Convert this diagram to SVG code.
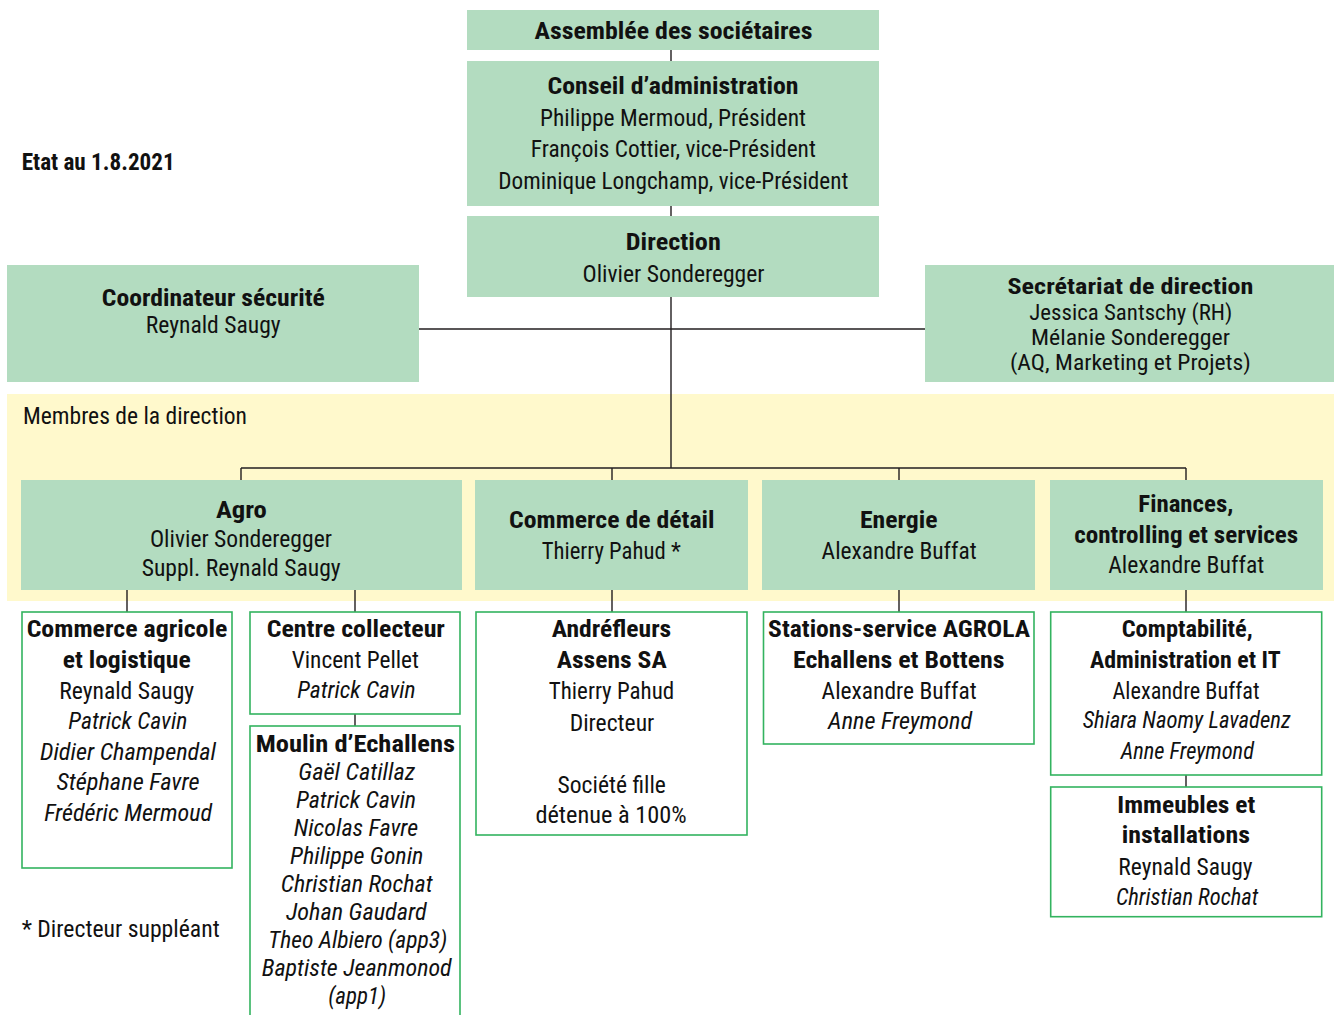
<svg xmlns="http://www.w3.org/2000/svg" width="1334" height="1015" viewBox="0 0 1334 1015">
<style>
text{font-family:"Liberation Sans Narrow","Roboto Condensed","Liberation Sans",Arial,sans-serif;font-size:23.3px;fill:#111;text-anchor:middle}
.b{font-weight:bold}
.i{font-style:italic}
.t{font-size:22.3px}
.st{text-anchor:start}
.fill{fill:#b3dcc0}
.band{fill:#fff9cc}
.box{fill:#fff;stroke:#33b35f;stroke-width:1.6}
.ln{stroke:#231f20;stroke-width:1.4;fill:none}
</style>
<rect width="1334" height="1015" fill="#fff"/>
<rect class="band" x="7" y="394" width="1327" height="207"/>

<g id="connectors">
<path class="ln" d="M671 50V61M671 206V216M671 297V468M419 329H925M241 468H1186M241 468V480M612 468V480M899 468V480M1186 468V480M127 590V612M355 590V612M355 714V726M612 590V612M899 590V612M1186 590V612M1186 775V787"/>
</g>

<g id="etat"><text class="b st" x="21.7" y="170" font-size="25" textLength="153" lengthAdjust="spacingAndGlyphs">Etat au 1.8.2021</text></g>
<g id="membres"><text class="st" x="23" y="423.5" textLength="224" lengthAdjust="spacingAndGlyphs">Membres de la direction</text></g>
<g id="note"><text class="st" x="21.7" y="937.3" font-size="22" textLength="198" lengthAdjust="spacingAndGlyphs">* Directeur suppléant</text></g>

<g id="assemblee">
<rect class="fill" x="467" y="10" width="412" height="40"/>
<text class="b" x="673.5" y="39" textLength="278" lengthAdjust="spacingAndGlyphs">Assemblée des sociétaires</text>
</g>
<g id="conseil">
<rect class="fill" x="467" y="61" width="412" height="145"/>
<text class="b" x="673" y="94" textLength="251" lengthAdjust="spacingAndGlyphs">Conseil d’administration</text>
<text x="673" y="125.5" textLength="266" lengthAdjust="spacingAndGlyphs">Philippe Mermoud, Président</text>
<text x="673.3" y="157" textLength="285" lengthAdjust="spacingAndGlyphs">François Cottier, vice-Président</text>
<text x="673.3" y="189" textLength="350" lengthAdjust="spacingAndGlyphs">Dominique Longchamp, vice-Président</text>
</g>
<g id="direction">
<rect class="fill" x="467" y="216" width="412" height="81"/>
<text class="b" x="673.3" y="250" textLength="95" lengthAdjust="spacingAndGlyphs">Direction</text>
<text x="673.5" y="281.5" textLength="182" lengthAdjust="spacingAndGlyphs">Olivier Sonderegger</text>
</g>
<g id="coordinateur">
<rect class="fill" x="7" y="265" width="412" height="117"/>
<text class="b" x="213.3" y="306" textLength="223" lengthAdjust="spacingAndGlyphs">Coordinateur sécurité</text>
<text x="213.2" y="332.5" textLength="135" lengthAdjust="spacingAndGlyphs">Reynald Saugy</text>
</g>
<g id="secretariat">
<rect class="fill" x="925" y="265" width="409" height="117"/>
<text class="b t" x="1130.5" y="294" textLength="246" lengthAdjust="spacingAndGlyphs">Secrétariat de direction</text>
<text class="t" x="1130.8" y="319.5" textLength="203" lengthAdjust="spacingAndGlyphs">Jessica Santschy (RH)</text>
<text class="t" x="1130.5" y="345" textLength="199" lengthAdjust="spacingAndGlyphs">Mélanie Sonderegger</text>
<text class="t" x="1130.4" y="370" textLength="241" lengthAdjust="spacingAndGlyphs">(AQ, Marketing et Projets)</text>
</g>

<g id="agro">
<rect class="fill" x="21" y="480" width="441" height="110"/>
<text class="b" x="241.4" y="517.5" textLength="51" lengthAdjust="spacingAndGlyphs">Agro</text>
<text x="240.9" y="546.5" textLength="182" lengthAdjust="spacingAndGlyphs">Olivier Sonderegger</text>
<text x="241.2" y="576" textLength="199" lengthAdjust="spacingAndGlyphs">Suppl. Reynald Saugy</text>
</g>
<g id="commerce-detail">
<rect class="fill" x="475" y="480" width="273" height="110"/>
<text class="b" x="611.8" y="527.5" textLength="205.5" lengthAdjust="spacingAndGlyphs">Commerce de détail</text>
<text x="611.2" y="558.5" textLength="139" lengthAdjust="spacingAndGlyphs">Thierry Pahud *</text>
</g>
<g id="energie">
<rect class="fill" x="762" y="480" width="273" height="110"/>
<text class="b" x="898.8" y="527.5" textLength="77.6" lengthAdjust="spacingAndGlyphs">Energie</text>
<text x="899.1" y="558.5" textLength="155" lengthAdjust="spacingAndGlyphs">Alexandre Buffat</text>
</g>
<g id="finances">
<rect class="fill" x="1050" y="480" width="273" height="110"/>
<text class="b" x="1185.8" y="511.5" textLength="95" lengthAdjust="spacingAndGlyphs">Finances,</text>
<text class="b" x="1186.2" y="542.5" textLength="224" lengthAdjust="spacingAndGlyphs">controlling et services</text>
<text x="1186.2" y="573" textLength="156" lengthAdjust="spacingAndGlyphs">Alexandre Buffat</text>
</g>

<g id="commerce-agricole">
<rect class="box" x="22" y="612" width="210" height="256"/>
<text class="b" x="127" y="637" textLength="200.7" lengthAdjust="spacingAndGlyphs">Commerce agricole</text>
<text class="b" x="126.7" y="668" textLength="128" lengthAdjust="spacingAndGlyphs">et logistique</text>
<text x="126.7" y="698.5" textLength="135" lengthAdjust="spacingAndGlyphs">Reynald Saugy</text>
<text class="i" x="127.8" y="729" textLength="119" lengthAdjust="spacingAndGlyphs">Patrick Cavin</text>
<text class="i" x="128" y="760" textLength="176" lengthAdjust="spacingAndGlyphs">Didier Champendal</text>
<text class="i" x="128" y="790" textLength="143" lengthAdjust="spacingAndGlyphs">Stéphane Favre</text>
<text class="i" x="128.2" y="820.5" textLength="168" lengthAdjust="spacingAndGlyphs">Frédéric Mermoud</text>
</g>
<g id="centre-collecteur">
<rect class="box" x="250" y="612" width="210" height="102"/>
<text class="b" x="355.8" y="636.7" textLength="178.3" lengthAdjust="spacingAndGlyphs">Centre collecteur</text>
<text x="355.3" y="668" textLength="127.3" lengthAdjust="spacingAndGlyphs">Vincent Pellet</text>
<text class="i" x="356.5" y="698.3" textLength="118.3" lengthAdjust="spacingAndGlyphs">Patrick Cavin</text>
</g>
<g id="moulin">
<rect class="box" x="250" y="726" width="210" height="300"/>
<text class="b" x="355.3" y="751.5" textLength="199.3" lengthAdjust="spacingAndGlyphs">Moulin d’Echallens</text>
<text class="i" x="356.7" y="780" textLength="116.7" lengthAdjust="spacingAndGlyphs">Gaël Catillaz</text>
<text class="i" x="356" y="807.5" textLength="120" lengthAdjust="spacingAndGlyphs">Patrick Cavin</text>
<text class="i" x="356" y="836" textLength="124.3" lengthAdjust="spacingAndGlyphs">Nicolas Favre</text>
<text class="i" x="356.7" y="864" textLength="133.3" lengthAdjust="spacingAndGlyphs">Philippe Gonin</text>
<text class="i" x="356.7" y="891.7" textLength="152" lengthAdjust="spacingAndGlyphs">Christian Rochat</text>
<text class="i" x="356.3" y="920" textLength="140.7" lengthAdjust="spacingAndGlyphs">Johan Gaudard</text>
<text class="i" x="357.8" y="948.3" textLength="179" lengthAdjust="spacingAndGlyphs">Theo Albiero (app3)</text>
<text class="i" x="356.7" y="976" textLength="190" lengthAdjust="spacingAndGlyphs">Baptiste Jeanmonod</text>
<text class="i" x="357.2" y="1004" textLength="57.7" lengthAdjust="spacingAndGlyphs">(app1)</text>
</g>
<g id="andrefleurs">
<rect class="box" x="476" y="612" width="271" height="223"/>
<text class="b" x="611.5" y="637.3" textLength="119.5" lengthAdjust="spacingAndGlyphs">Andréfleurs</text>
<text class="b" x="611.7" y="668.3" textLength="110" lengthAdjust="spacingAndGlyphs">Assens SA</text>
<text x="611.5" y="699" textLength="125.5" lengthAdjust="spacingAndGlyphs">Thierry Pahud</text>
<text x="612" y="731" textLength="84.6" lengthAdjust="spacingAndGlyphs">Directeur</text>
<text x="611.7" y="792.7" textLength="108.3" lengthAdjust="spacingAndGlyphs">Société fille</text>
<text x="611" y="822.7" textLength="151.2" lengthAdjust="spacingAndGlyphs">détenue à 100%</text>
</g>
<g id="stations">
<rect class="box" x="763.5" y="612" width="270.5" height="132"/>
<text class="b" x="899.1" y="637" textLength="262" lengthAdjust="spacingAndGlyphs">Stations-service AGROLA</text>
<text class="b" x="898.8" y="668" textLength="211.6" lengthAdjust="spacingAndGlyphs">Echallens et Bottens</text>
<text x="899.1" y="698.5" textLength="155" lengthAdjust="spacingAndGlyphs">Alexandre Buffat</text>
<text class="i" x="900.1" y="729.3" textLength="144" lengthAdjust="spacingAndGlyphs">Anne Freymond</text>
</g>
<g id="comptabilite">
<rect class="box" x="1050.7" y="612" width="271" height="163"/>
<text class="b" x="1187.2" y="636.7" textLength="131" lengthAdjust="spacingAndGlyphs">Comptabilité,</text>
<text class="b" x="1185.3" y="668.3" textLength="190.7" lengthAdjust="spacingAndGlyphs">Administration et IT</text>
<text x="1186" y="699" textLength="147" lengthAdjust="spacingAndGlyphs">Alexandre Buffat</text>
<text class="i" x="1186.7" y="728.3" textLength="208" lengthAdjust="spacingAndGlyphs">Shiara Naomy Lavadenz</text>
<text class="i" x="1187.3" y="759" textLength="133.3" lengthAdjust="spacingAndGlyphs">Anne Freymond</text>
</g>
<g id="immeubles">
<rect class="box" x="1050.7" y="787" width="271" height="129.7"/>
<text class="b" x="1186.3" y="812.7" textLength="138" lengthAdjust="spacingAndGlyphs">Immeubles et</text>
<text class="b" x="1185.8" y="843.3" textLength="128.3" lengthAdjust="spacingAndGlyphs">installations</text>
<text x="1185.5" y="875" textLength="134.3" lengthAdjust="spacingAndGlyphs">Reynald Saugy</text>
<text class="i" x="1187.1" y="905" textLength="142.3" lengthAdjust="spacingAndGlyphs">Christian Rochat</text>
</g>
</svg>
